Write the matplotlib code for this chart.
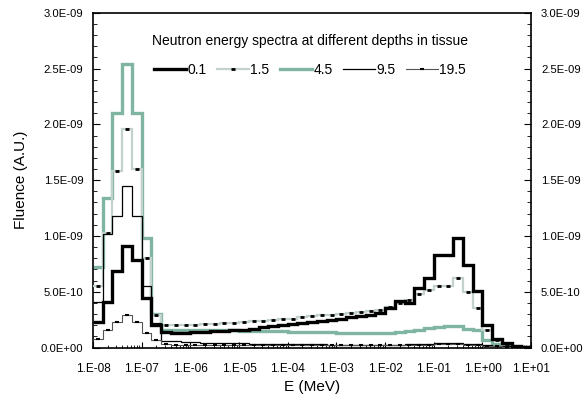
import numpy as np
import matplotlib.pyplot as plt
from matplotlib.lines import Line2D
from matplotlib.ticker import FixedLocator, FuncFormatter, LogLocator

plt.rcParams['font.family'] = ['Liberation Sans', 'DejaVu Sans']

# energy bin edges (MeV), 5 bins per decade
edges = 10 ** np.linspace(-8, 1, 46)

# fluence per bin, in units of 1e-9
f_01 = [0.23, 0.41, 0.69, 0.91, 0.78, 0.44, 0.20, 0.14, 0.13, 0.13,
        0.135, 0.14, 0.145, 0.15, 0.155, 0.16, 0.17, 0.18, 0.19, 0.20,
        0.21, 0.22, 0.23, 0.24, 0.25, 0.26, 0.27, 0.28, 0.29, 0.31,
        0.35, 0.42, 0.40, 0.53, 0.62, 0.83, 0.83, 0.98, 0.74, 0.51,
        0.20, 0.08, 0.04, 0.01, 0.005]
f_15 = [0.55, 1.03, 1.58, 1.96, 1.60, 0.80, 0.29, 0.20, 0.20, 0.20,
        0.205, 0.21, 0.21, 0.22, 0.22, 0.23, 0.235, 0.24, 0.25, 0.26,
        0.26, 0.27, 0.28, 0.29, 0.29, 0.30, 0.31, 0.32, 0.33, 0.34,
        0.36, 0.40, 0.43, 0.48, 0.52, 0.55, 0.55, 0.62, 0.50, 0.35,
        0.16, 0.07, 0.03, 0.01, 0.005]
f_45 = [0.72, 1.34, 2.10, 2.54, 2.10, 0.98, 0.30, 0.16, 0.16, 0.16,
        0.16, 0.16, 0.155, 0.155, 0.155, 0.15, 0.15, 0.15, 0.145, 0.145,
        0.14, 0.14, 0.14, 0.135, 0.135, 0.13, 0.13, 0.13, 0.13, 0.13,
        0.13, 0.135, 0.145, 0.16, 0.175, 0.185, 0.19, 0.195, 0.17, 0.16,
        0.07, 0.03, 0.012, 0.005, 0.003]
f_95 = [0.41, 1.02, 1.18, 1.45, 1.18, 0.55, 0.22, 0.06, 0.055, 0.05,
        0.05, 0.045, 0.045, 0.04, 0.04, 0.04, 0.035, 0.035, 0.03, 0.03,
        0.03, 0.03, 0.03, 0.03, 0.025, 0.025, 0.025, 0.025, 0.025, 0.025,
        0.025, 0.025, 0.03, 0.03, 0.035, 0.04, 0.04, 0.04, 0.035, 0.03,
        0.02, 0.015, 0.01, 0.005, 0.003]
f_195 = [0.08, 0.16, 0.23, 0.29, 0.23, 0.13, 0.07, 0.03, 0.025, 0.02,
         0.02, 0.02, 0.02, 0.02, 0.02, 0.02, 0.02, 0.02, 0.02, 0.02,
         0.02, 0.02, 0.02, 0.02, 0.02, 0.02, 0.02, 0.02, 0.02, 0.02,
         0.02, 0.02, 0.02, 0.025, 0.025, 0.03, 0.03, 0.03, 0.025, 0.02,
         0.015, 0.01, 0.005, 0.003, 0.002]

depths = ['0.1', '1.5', '4.5', '9.5', '19.5']

green = '#80b5a1'
light = '#c3d3cc'

fig = plt.figure(figsize=(5.85, 3.99), dpi=100)
ax = fig.add_axes([0.159, 0.129, 0.749, 0.839])

centers = np.sqrt(edges[:-1] * edges[1:])
sc = 1e-9

ax.stairs(np.array(f_45) * sc, edges, baseline=None, color=green, lw=2.4, zorder=2)
ax.stairs(np.array(f_15) * sc, edges, baseline=None, color=light, lw=1.6, zorder=3)
ax.plot(centers, np.array(f_15) * sc, ls='none', marker='_', color='k',
        ms=3.5, mew=2.0, zorder=4)
ax.stairs(np.array(f_95) * sc, edges, baseline=None, color='k', lw=0.9, zorder=3)
ax.stairs(np.array(f_195) * sc, edges, baseline=None, color='#555555', lw=0.8, zorder=3)
ax.plot(centers, np.array(f_195) * sc, ls='none', marker='_', color='k',
        ms=3, mew=1.5, zorder=4)
ax.stairs(np.array(f_01) * sc, edges, baseline=None, color='k', lw=2.4, zorder=5)

ax.set_xscale('log')
ax.set_xlim(1e-8, 1e1)
ax.set_ylim(0, 3e-9)

ax.xaxis.set_major_locator(FixedLocator(10.0 ** np.arange(-8, 2)))
ax.xaxis.set_minor_locator(LogLocator(base=10, subs=np.arange(2, 10), numticks=20))
ax.xaxis.set_major_formatter(FuncFormatter(lambda v, p: '{:#.0E}'.format(v)))
ax.yaxis.set_major_locator(FixedLocator(np.linspace(0, 3e-9, 7)))
ax.yaxis.set_minor_locator(FixedLocator(np.linspace(0, 3e-9, 31)))
ax.yaxis.set_major_formatter(FuncFormatter(lambda v, p: '{:.1E}'.format(v)))

ax.tick_params(axis='x', which='both', direction='in', top=False, labelsize=8.5, pad=11)
ax.tick_params(axis='x', which='major', length=4)
ax.tick_params(axis='x', which='minor', length=2.5)
ax.tick_params(axis='y', which='both', direction='in', left=True, right=True,
               labelleft=True, labelright=True, labelsize=8.1, pad=7)
ax.tick_params(axis='y', which='major', length=5)
ax.tick_params(axis='y', which='minor', length=3)
for s in ax.spines.values():
    s.set_linewidth(1.2)

ax.set_xlabel('E (MeV)', fontsize=11, labelpad=4)
ax.set_ylabel('Fluence (A.U.)', fontsize=11, labelpad=9)

handles = [
    Line2D([], [], color='k', lw=2.4),
    Line2D([], [], color=light, lw=1.6, marker='_', mec='k', ms=3.5, mew=2.0),
    Line2D([], [], color=green, lw=2.4),
    Line2D([], [], color='k', lw=0.9),
    Line2D([], [], color='#555555', lw=0.8, marker='_', mec='k', ms=3, mew=1.5),
]
leg = ax.legend(handles, depths, ncol=5, loc='upper center',
                bbox_to_anchor=(0.495, 0.975), frameon=False, fontsize=10,
                title='Neutron energy spectra at different depths in tissue',
                title_fontsize=10, handlelength=2.3, handletextpad=0.1,
                columnspacing=0.75)
leg._legend_box.sep = 11

fig.savefig('out.png', dpi=100)
